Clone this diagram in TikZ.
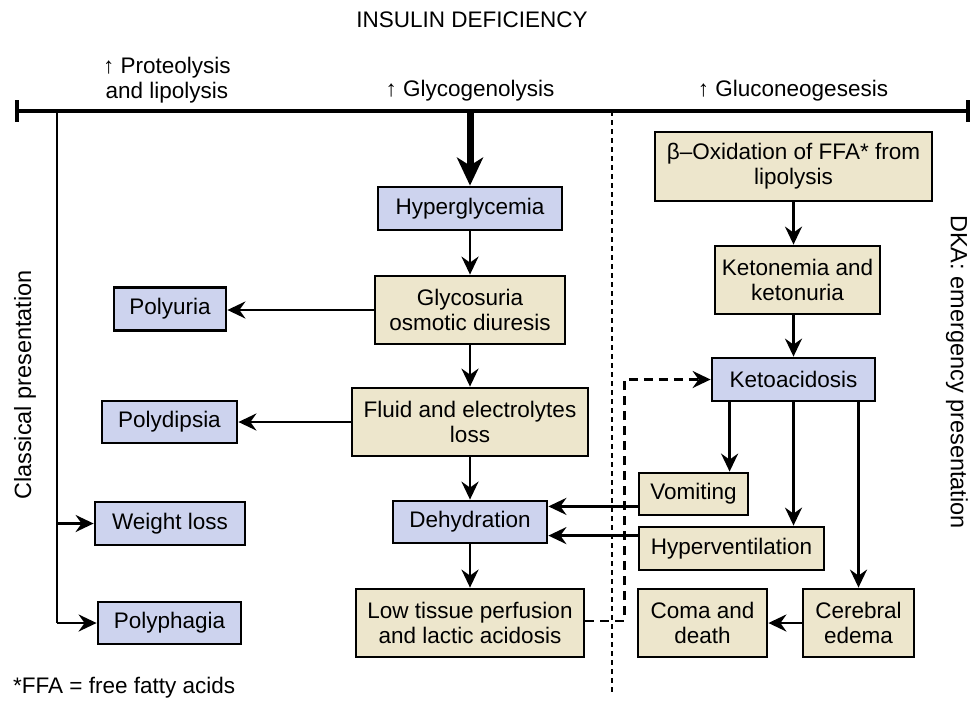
\documentclass[tikz,border=0pt]{standalone}
\usepackage{fontspec}
\setmainfont{Liberation Sans}
\usetikzlibrary{arrows.meta,calc}
\definecolor{bluefill}{RGB}{205,211,238}
\definecolor{tanfill}{RGB}{237,230,204}
\begin{document}
\begin{tikzpicture}[x=1pt,y=-1pt,
  every node/.style={font=\fontsize{22.5}{25}\selectfont, inner sep=0pt, align=center},
  bbox/.style={draw, line width=2.8pt, fill=bluefill},
  tbox/.style={draw, line width=2.8pt, fill=tanfill},
  arr/.style={line width=2.6pt, -{Stealth[length=18pt,width=17pt,inset=6pt]}},
  bigarr/.style={line width=7pt, -{Stealth[length=28pt,width=26pt,inset=8pt]}},
  dasharr/.style={arr, dash pattern=on 9pt off 6pt},
  divider/.style={line width=2pt, dash pattern=on 5pt off 4pt},
  lbl/.style={},
  sidelbl/.style={font=\fontsize{23.5}{26}\selectfont}]
\useasboundingbox (0,0) rectangle (971,702);
% titles
\node[lbl] (title) at (472,20) {INSULIN DEFICIENCY};
\node[lbl] (prot) at (167,80) {↑ Proteolysis\\and lipolysis};
\node[lbl] (glyc) at (470,91) {↑ Glycogenolysis};
\node[lbl] (gluc) at (793,91) {↑ Gluconeogesesis};
% main bar
\coordinate (barL) at (17,111);
\coordinate (barR) at (968,111);
\coordinate (barC) at (470,111);
\coordinate (barLeft) at (57,111);
\coordinate (barDiv) at (612,111);
\coordinate (divEnd) at (612,692);
\draw[line width=3.5pt] (barL) -- (barR);
\draw[line width=4pt] ([yshift=11pt]barL) -- ([yshift=-11pt]barL);
\draw[line width=4pt] ([yshift=11pt]barR) -- ([yshift=-11pt]barR);
\draw[divider] (barDiv) -- (divEnd);
% central column
\node[bbox, minimum width=184pt, minimum height=43pt] (hyper) at (470,208.5) {Hyperglycemia};
\node[tbox, minimum width=190pt, minimum height=68pt] (gly) at (470,310) {Glycosuria\\osmotic diuresis};
\node[tbox, minimum width=236pt, minimum height=68pt] (fluid) at (470,422) {Fluid and electrolytes\\loss};
\node[bbox, minimum width=154pt, minimum height=42pt] (dehyd) at (470,522) {Dehydration};
\node[tbox, minimum width=228pt, minimum height=68pt] (low) at (470,623) {Low tissue perfusion\\and lactic acidosis};
% left column
\node[bbox, minimum width=112pt, minimum height=43pt] (polyuria) at (170,309) {Polyuria};
\node[bbox, minimum width=135pt, minimum height=42pt] (polydip) at (169.5,422) {Polydipsia};
\node[bbox, minimum width=150pt, minimum height=43pt] (weight) at (170,523.5) {Weight loss};
\node[bbox, minimum width=143pt, minimum height=42pt] (polyph) at (169.5,623) {Polyphagia};
% right column
\node[tbox, minimum width=277pt, minimum height=69pt] (beta) at (793.5,166.5) {β–Oxidation of FFA* from\\lipolysis};
\node[tbox, minimum width=165pt, minimum height=68pt] (keton) at (797.5,280) {Ketonemia and\\ketonuria};
\node[bbox, minimum width=163pt, minimum height=43pt] (keto) at (793.5,379.5) {Ketoacidosis};
\node[tbox, minimum width=109pt, minimum height=42pt] (vom) at (693.5,494) {Vomiting};
\node[tbox, minimum width=185pt, minimum height=43pt] (hyp) at (731.5,548.5) {Hyperventilation};
\node[tbox, minimum width=129pt, minimum height=68pt] (coma) at (702.5,623) {Coma and\\death};
\node[tbox, minimum width=111pt, minimum height=68pt] (ced) at (858.5,623) {Cerebral\\edema};
% side labels
\node[sidelbl, rotate=90] (classic) at (25,385) {Classical presentation};
\node[sidelbl, rotate=-90] (dka) at (957,372) {DKA: emergency presentation};
\node[lbl, anchor=west] (foot) at (13,688) {*FFA = free fatty acids};
% connectors
\draw[bigarr] (barC) -- (hyper.north);
\draw[arr] (hyper.south) -- (gly.north);
\draw[arr] (gly.south) -- (fluid.north);
\draw[arr] (fluid.south) -- (dehyd.north);
\draw[arr] (dehyd.south) -- (low.north);
\draw[arr] (gly.west) -- (gly.west -| polyuria.east);
\draw[arr] (fluid.west) -- (fluid.west -| polydip.east);
\draw[line width=2.6pt] (barLeft) -- (barLeft |- polyph.west);
\draw[arr] (barLeft |- weight.west) -- (weight.west);
\draw[arr] (barLeft |- polyph.west) -- (polyph.west);
\draw[arr] (beta.south) -- (beta.south |- keton.north);
\draw[arr] (keton.south -| beta.south) -- (beta.south |- keto.north);
\coordinate (kv) at ([xshift=19pt]keto.south west);
\draw[arr] (kv) -- (kv |- vom.north);
\draw[arr] (keto.south) -- (keto.south |- hyp.north);
\draw[arr] (keto.south -| ced.north) -- (ced.north);
\draw[arr] (ced.west) -- (ced.west -| coma.east);
\coordinate (vA) at ([yshift=10pt]vom.south west);
\coordinate (hA) at ([yshift=-10pt]hyp.north west);
\draw[arr] (vA) -- (vA -| dehyd.east);
\draw[arr] (hA) -- (hA -| dehyd.east);
\coordinate (dl) at ([yshift=2pt]low.east);
\draw[dasharr] (dl) -- ++(39,0) |- (keto.west);
\end{tikzpicture}
\end{document}
